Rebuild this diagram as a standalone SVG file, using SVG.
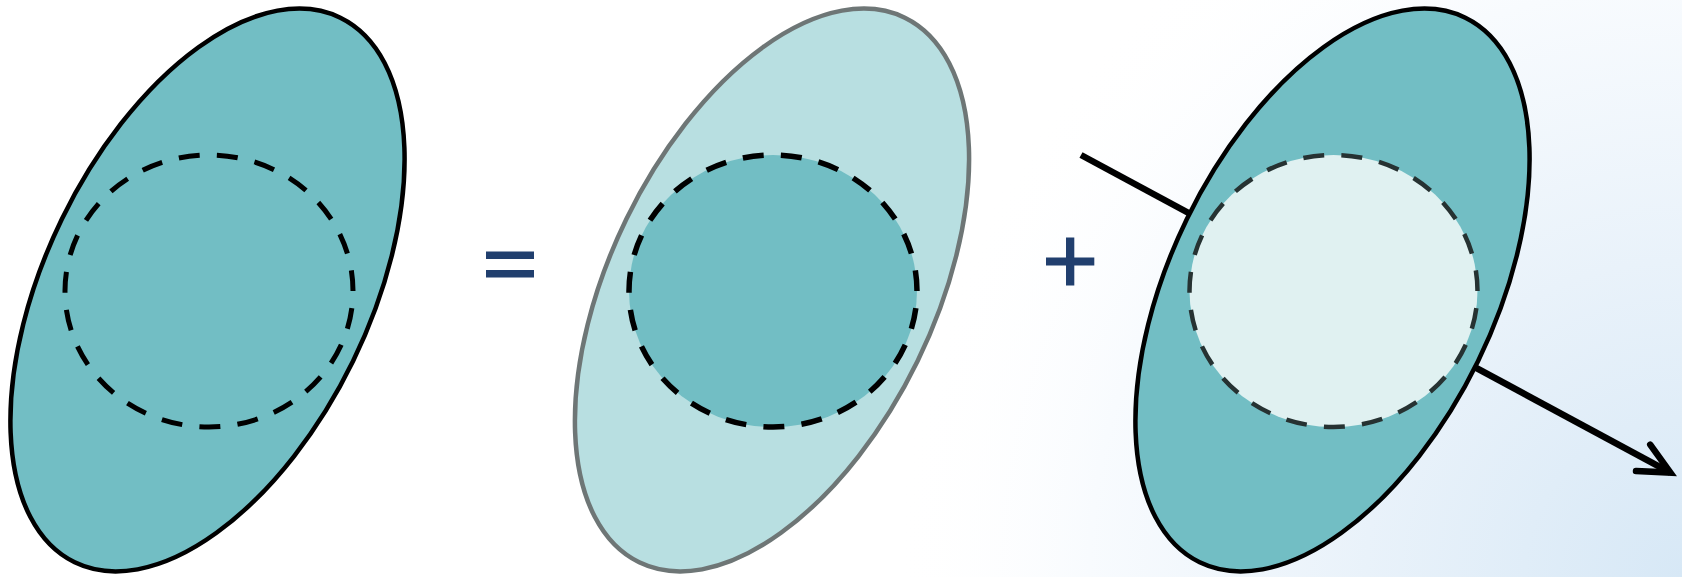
<svg xmlns="http://www.w3.org/2000/svg" width="1682" height="577" viewBox="0 0 1682 577">
  <defs>
    <radialGradient id="bg" cx="1682" cy="577" r="790" gradientUnits="userSpaceOnUse">
      <stop offset="0" stop-color="#d7e8f6"/>
      <stop offset="0.4" stop-color="#e9f2fa"/>
      <stop offset="0.75" stop-color="#f8fbfe"/>
      <stop offset="1" stop-color="#ffffff" stop-opacity="0"/>
    </radialGradient>
    <marker id="arrow" viewBox="-40 -22 48 44" markerWidth="48" markerHeight="44" refX="0" refY="0" orient="auto" markerUnits="userSpaceOnUse">
      <path d="M-31,-15 L0,0 L-31,15" fill="none" stroke="#000" stroke-width="6.5" stroke-linecap="round" stroke-linejoin="miter"/>
    </marker>
  </defs>
  <style>
    .shell { fill: #72bec4; stroke: #000; stroke-width: 4.5; }
    .shell-light { fill: #b8dfe1; stroke: #6e7676; stroke-width: 4.5; }
    .dash { stroke-width: 5; stroke-dasharray: 21 17.25; stroke-dashoffset: 21; }
    .op { fill: #213f6e; }
  </style>
  <rect x="0" y="0" width="1682" height="577" fill="#ffffff"/>
  <rect x="0" y="0" width="1682" height="577" fill="url(#bg)"/>

  <g id="node-total">
    <ellipse class="shell" cx="207.5" cy="290" rx="162" ry="303" transform="rotate(26 207.5 290)"/>
    <ellipse class="dash" cx="209" cy="291" rx="144" ry="136" fill="none" stroke="#000"/>
  </g>

  <g id="op-equals">
    <rect class="op" x="486" y="251.5" width="48" height="7.5"/>
    <rect class="op" x="486" y="270" width="48" height="7.5"/>
  </g>

  <g id="node-part1">
    <ellipse class="shell-light" cx="772" cy="290" rx="162" ry="303" transform="rotate(26 772 290)"/>
    <ellipse class="dash" cx="773" cy="291" rx="144" ry="136" fill="#72bec4" stroke="#000" style="stroke-width:5.5"/>
  </g>

  <g id="op-plus">
    <rect class="op" x="1066" y="237.5" width="8.3" height="48"/>
    <rect class="op" x="1046" y="257.5" width="48.3" height="8"/>
  </g>

  <g id="connectors">
    <line x1="1081" y1="155" x2="1670.4" y2="472.6" stroke="#000" stroke-width="6.5" marker-end="url(#arrow)"/>
  </g>

  <g id="node-part2">
    <ellipse class="shell" cx="1332.5" cy="290" rx="162" ry="303" transform="rotate(26 1332.5 290)"/>
    <ellipse class="dash" cx="1333.5" cy="291" rx="144" ry="136" fill="#e0f1f1" stroke="#263232" style="stroke-width:4.5"/>
  </g>
</svg>
